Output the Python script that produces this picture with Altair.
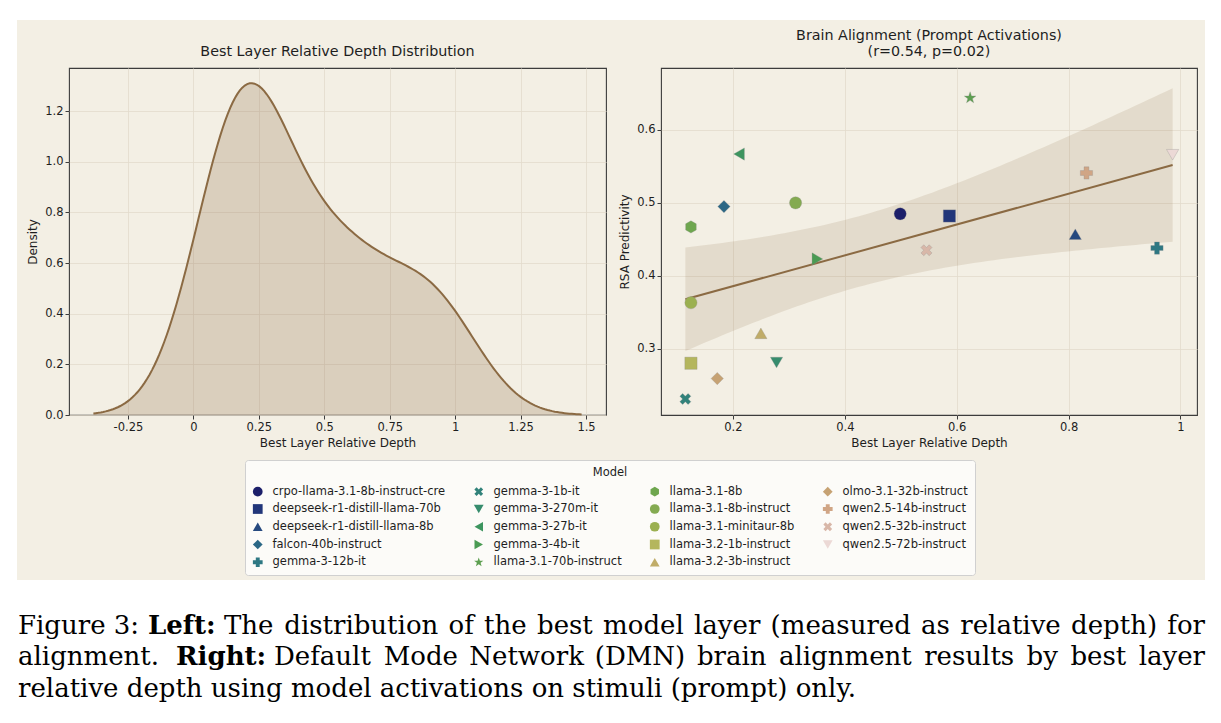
import altair as alt
import numpy as np
import pandas as pd

# ---------------- data ----------------
models = [
    "crpo-llama-3.1-8b-instruct-cre", "deepseek-r1-distill-llama-70b", "deepseek-r1-distill-llama-8b",
    "falcon-40b-instruct", "gemma-3-12b-it", "gemma-3-1b-it", "gemma-3-270m-it", "gemma-3-27b-it",
    "gemma-3-4b-it", "llama-3.1-70b-instruct", "llama-3.1-8b", "llama-3.1-8b-instruct",
    "llama-3.1-minitaur-8b", "llama-3.2-1b-instruct", "llama-3.2-3b-instruct", "olmo-3.1-32b-instruct",
    "qwen2.5-14b-instruct", "qwen2.5-32b-instruct", "qwen2.5-72b-instruct",
]
best_depth = [0.499, 0.587, 0.812, 0.184, 0.958, 0.115, 0.278, 0.211, 0.351, 0.624,
              0.125, 0.312, 0.125, 0.125, 0.250, 0.172, 0.832, 0.546, 0.986]
rsa_pred = [0.485, 0.482, 0.457, 0.495, 0.438, 0.231, 0.281, 0.567, 0.423, 0.644,
            0.467, 0.500, 0.363, 0.280, 0.321, 0.259, 0.541, 0.435, 0.566]
model_colors = ["#1c1f6a", "#22367a", "#26497f", "#2b6785", "#2e7883", "#31827a", "#368c6d", "#3d955f",
                "#4a9b53", "#5d9f50", "#6ea64e", "#84aa51", "#9bb050", "#b4b65d", "#c0ac68", "#c6a273",
                "#d0a585", "#d8b7a8", "#ecd9d6"]
model_markers = ["circle", "square", "triangle-up", "diamond", "plus", "x", "triangle-down", "triangle-left",
                 "triangle-right", "star", "hexagon", "circle", "circle", "square", "triangle-up", "diamond",
                 "plus", "x", "triangle-down"]

left_title = "Best Layer Relative Depth Distribution"
right_title = ["Brain Alignment (Prompt Activations)", "(r=0.54, p=0.02)"]
x_title = "Best Layer Relative Depth"
left_y_title = "Density"
right_y_title = "RSA Predictivity"
left_x_ticks = [-0.25, 0, 0.25, 0.5, 0.75, 1, 1.25, 1.5]
left_y_ticks = [0, 0.2, 0.4, 0.6, 0.8, 1.0, 1.2]
right_x_ticks = [0.2, 0.4, 0.6, 0.8, 1.0]
right_y_ticks = [0.3, 0.4, 0.5, 0.6]

caption_l1 = ["Figure 3:", "Left:", "The distribution of the best model layer (measured as relative depth) for"]
caption_l2 = ["alignment.", "Right:", "Default Mode Network (DMN) brain alignment results by best layer"]
caption_l3 = ["relative depth using model activations on stimuli (prompt) only."]

# ---------------- style ----------------
CREAM = "#f3efe4"
BROWN = "#8b6a43"
GRID = "#e2dacb"
FRAME = "#3c3c3c"
TXT = "#1e1e1e"
FONT = "DejaVu Sans"


def star_path(outer=1.0, inner=0.4):
    pts = []
    for i in range(10):
        r = outer if i % 2 == 0 else inner
        a = -np.pi / 2 + i * np.pi / 5
        pts.append((r * np.cos(a), r * np.sin(a)))
    return "M" + "L".join(f"{px:.3f},{py:.3f}" for px, py in pts) + "Z"


def x_path(w=0.34):
    base = [(-w, -1), (w, -1), (w, -w), (1, -w), (1, w), (w, w), (w, 1), (-w, 1), (-w, w), (-1, w), (-1, -w), (-w, -w)]
    c = np.cos(np.pi / 4)
    k = 1 / ((1 + w) * c)
    pts = [((px - py) * c * k * 0.9, (px + py) * c * k * 0.9) for px, py in base]
    return "M" + "L".join(f"{px:.3f},{py:.3f}" for px, py in pts) + "Z"


SHAPES = {
    "circle": "circle", "square": "square", "triangle-up": "triangle-up", "diamond": "diamond",
    "plus": "cross", "triangle-down": "triangle-down", "triangle-left": "triangle-left",
    "triangle-right": "triangle-right", "star": star_path(), "x": x_path(),
    "hexagon": "M0,-1L0.866,-0.5L0.866,0.5L0,1L-0.866,0.5L-0.866,-0.5Z",
}

df = pd.DataFrame({"model": models, "x": best_depth, "y": rsa_pred})

# KDE (Scott bandwidth, cut=3 like seaborn)
xa = np.array(best_depth)
ya = np.array(rsa_pred)
n = len(xa)
bw = float(xa.std(ddof=1) * n ** (-0.2))
ext_lo, ext_hi = float(xa.min() - 3 * bw), float(xa.max() + 3 * bw)
pad = 0.05 * (ext_hi - ext_lo)
left_xdom = [ext_lo - pad, ext_hi + pad]

# regression confidence band
slope, icpt = np.polyfit(xa, ya, 1)
resid = ya - (slope * xa + icpt)
s = np.sqrt((resid ** 2).sum() / (n - 2))
sxx = ((xa - xa.mean()) ** 2).sum()
grid = np.linspace(xa.min(), xa.max(), 80)
fit = slope * grid + icpt
se = s * np.sqrt(1 / n + (grid - xa.mean()) ** 2 / sxx)
band_df = pd.DataFrame({"gx": grid, "lo": fit - 2.11 * se, "hi": fit + 2.11 * se})

rx_pad = 0.05 * (xa.max() - xa.min())
right_xdom = [float(xa.min() - rx_pad), float(xa.max() + rx_pad)]
right_ydom = [0.209, 0.685]

PLOT_VIEW = alt.ViewBackground(fill=CREAM, stroke=FRAME, strokeWidth=1.1)


def axis(values, fmt, title):
    return alt.Axis(values=values, labelExpr=f"replace(format(datum.value, '{fmt}'), '\u2212', '-')",
                    title=title, grid=True, gridColor=GRID, gridWidth=0.8, domain=False,
                    ticks=True, tickSize=4, tickColor=FRAME, labelFlush=False, labelOverlap=False)


# ---------------- left: density ----------------
lx = alt.Scale(domain=left_xdom, nice=False, zero=False)
ly = alt.Scale(domain=[0, 1.37], nice=False)
kde = alt.Chart(df).transform_density(
    density="x", as_=["value", "density"], bandwidth=bw, extent=[ext_lo, ext_hi], steps=200)
left_area = kde.mark_area(color=BROWN, opacity=0.24).encode(
    x=alt.X("value:Q", scale=lx, axis=axis(left_x_ticks, ".2~f", x_title)),
    y=alt.Y("density:Q", scale=ly, axis=axis(left_y_ticks, ".1f", left_y_title)),
)
left_line = kde.mark_line(color=BROWN, strokeWidth=2).encode(
    x=alt.X("value:Q", scale=lx), y=alt.Y("density:Q", scale=ly))
left = alt.layer(left_area, left_line).properties(
    width=537, height=347, title=alt.TitleParams(left_title), view=PLOT_VIEW)

# ---------------- right: scatter ----------------
rx = alt.Scale(domain=right_xdom, nice=False, zero=False)
ry = alt.Scale(domain=right_ydom, nice=False, zero=False)
band = alt.Chart(band_df).mark_area(color=BROWN, opacity=0.15).encode(
    x=alt.X("gx:Q", scale=rx, axis=axis(right_x_ticks, ".1~f", x_title)),
    y=alt.Y("lo:Q", scale=ry, axis=axis(right_y_ticks, ".1f", right_y_title)),
    y2="hi:Q",
)
reg = alt.Chart(df).transform_regression("x", "y").mark_line(color=BROWN, strokeWidth=2).encode(
    x=alt.X("x:Q", scale=rx), y=alt.Y("y:Q", scale=ry))

leg = alt.Legend(
    title="Model", orient="none", legendX=245, legendY=460, columns=4, symbolSize=95,
    labelFont=FONT, labelFontSize=11.5, labelColor=TXT, labelLimit=400, titleFont=FONT, titleFontSize=11.5,
    titleFontWeight="normal", titleColor=TXT, titleAnchor="middle", titlePadding=7,
    fillColor="#fcfbf8", strokeColor="#d0d0d0", padding=7, cornerRadius=3,
    rowPadding=4.75, columnPadding=27, labelOffset=9, symbolStrokeWidth=0,
)
pts = alt.Chart(df).mark_point(filled=True, size=150, opacity=1, stroke="#8a8a8a",
                               strokeWidth=0.3).encode(
    x=alt.X("x:Q", scale=rx), y=alt.Y("y:Q", scale=ry),
    color=alt.Color("model:N", scale=alt.Scale(domain=models, range=model_colors), legend=leg),
    shape=alt.Shape("model:N", scale=alt.Scale(domain=models,
                                               range=[SHAPES[m] for m in model_markers]), legend=leg),
)
right = alt.layer(band, reg, pts).properties(
    width=536, height=347, title=alt.TitleParams(right_title, lineHeight=16), view=PLOT_VIEW)

# ---------------- caption (justified like the reference) ----------------
CAP_FONT = "DejaVu Serif"
CAP_SIZE = 26
CAP_DX = -1205  # caption lives in the last grid cell, which starts at x=1205
SERIF_W = {" ": 318, "(": 390, ")": 390, ",": 318, "-": 338, ".": 318, ":": 337,
           "A": 722, "D": 831, "F": 730, "M": 995, "N": 812, "T": 685}
SERIF_W.update({d: 636 for d in "0123456789"})
SERIF_W.update(dict(zip("abcdefghijklmnopqrstuvwxyz",
                        [596, 640, 560, 640, 592, 370, 640, 644, 320, 310, 606, 320, 948, 644, 602, 640,
                         640, 478, 513, 402, 644, 565, 856, 564, 565, 530])))


def text_w(t):
    return sum(SERIF_W.get(ch, 600) for ch in t) / 1000 * CAP_SIZE


def justify(text, x0, x1, y):
    words = text.split(" ")
    ws = [text_w(w) for w in words]
    gap = (x1 - x0 - sum(ws)) / (len(words) - 1)
    rows, x = [], x0
    for i, (w, wd) in enumerate(zip(words, ws)):
        if i == 0:
            rows.append({"t": w, "px": x + CAP_DX, "py": y, "al": "left"})
        elif i == len(words) - 1:
            rows.append({"t": w, "px": x1 + CAP_DX, "py": y, "al": "right"})
        else:
            rows.append({"t": w, "px": x + wd / 2 + CAP_DX, "py": y, "al": "center"})
        x += wd + gap
    return rows


reg_rows = [{"t": caption_l1[0], "px": 18 + CAP_DX, "py": 46, "al": "left"}]
reg_rows += justify(caption_l1[2], 224, 1205, 46)
reg_rows += [{"t": caption_l2[0], "px": 18 + CAP_DX, "py": 77, "al": "left"}]
reg_rows += justify(caption_l2[2], 274, 1205, 77)
reg_rows += [{"t": caption_l3[0], "px": 18 + CAP_DX, "py": 109, "al": "left"}]
bold_rows = [{"t": caption_l1[1], "px": 148 + CAP_DX, "py": 46, "al": "left"},
             {"t": caption_l2[1], "px": 176 + CAP_DX, "py": 77, "al": "left"}]


def cap_layer(rows, weight, align):
    sub = [r for r in rows if r["al"] == align]
    return alt.Chart(pd.DataFrame(sub)).mark_text(
        align=align, baseline="middle", font=CAP_FONT, fontSize=CAP_SIZE, fontWeight=weight,
        color="black").encode(
        text="t:N", x=alt.X("px:Q", scale=None, axis=None), y=alt.Y("py:Q", scale=None, axis=None))


# ---------------- layout grid (flush) ----------------
col_w = [17, 52, 537, 55, 536, 8, 16]
row_h = [20, 48, 347, 165, 143]


def spacer(w, h, white):
    vb = alt.ViewBackground(fill="white", strokeWidth=0) if white else alt.ViewBackground(strokeWidth=0)
    return alt.Chart(pd.DataFrame({"v": [0]})).mark_point(opacity=0, size=1).encode(
        x=alt.value(w / 2), y=alt.value(h / 2)).properties(width=w, height=h, view=vb)


cells = []
for r, h in enumerate(row_h):
    for c, w in enumerate(col_w):
        white = r in (0, 4) or c in (0, 6)
        if (r, c) == (2, 2):
            cells.append(left)
        elif (r, c) == (2, 4):
            cells.append(right)
        elif (r, c) == (4, 6):
            cells.append(alt.layer(
                spacer(w, h, True),
                cap_layer(reg_rows, "normal", "left"), cap_layer(reg_rows, "normal", "center"),
                cap_layer(reg_rows, "normal", "right"), cap_layer(bold_rows, "bold", "left"),
            ).properties(width=w, height=h, view=alt.ViewBackground(fill="white", strokeWidth=0)))
        else:
            cells.append(spacer(w, h, white))

chart = alt.concat(*cells, columns=7, spacing=0, bounds="flush", align="each").properties(
    background=CREAM, padding=0
).configure(font=FONT).configure_view(strokeWidth=0).configure_axis(
    labelFont=FONT, labelFontSize=11.5, labelColor=TXT, labelPadding=2,
    titleFont=FONT, titleFontSize=12, titleFontWeight="normal", titleColor=TXT, titlePadding=5,
).configure_title(font=FONT, fontSize=14.3, fontWeight="normal", color=TXT, offset=9, anchor="middle")

chart.save("out.html", embed_options={"renderer": "svg", "actions": False})
